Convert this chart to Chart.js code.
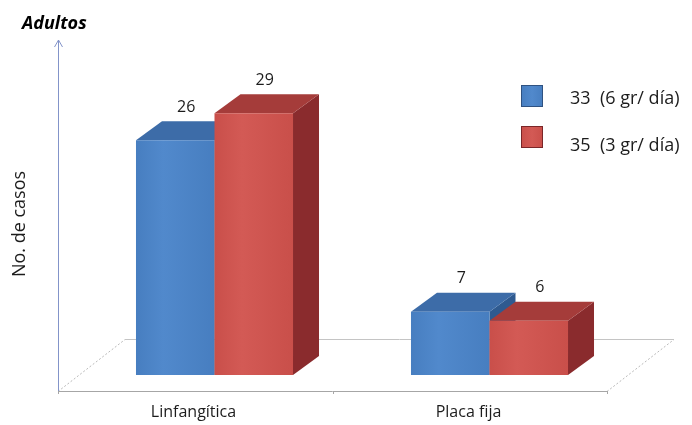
<!DOCTYPE html>
<html>
<head>
<meta charset="utf-8">
<script src="https://cdn.jsdelivr.net/npm/chart.js@4/dist/chart.umd.min.js"></script>
<style>
  html, body { margin: 0; padding: 0; background: #ffffff; }
  canvas { display: block; }
</style>
</head>
<body>
<canvas id="chart" width="692" height="425"></canvas>
<script>
// Data
const categories = ['Linfangítica', 'Placa fija'];
const seriesNames = ['33  (6 gr/ día)', '35  (3 gr/ día)'];
const dosis6gr = [26, 7];
const dosis3gr = [29, 6];
const chartTitle = 'Adultos';
const yAxisTitle = 'No. de casos';

const FONT = '"Open Sans", Lato, sans-serif';

// Face colours of each 3D bar series
const palette = [
  { front: '#477ec0', light: '#5189cc', top: '#3d6ca8', side: '#2f5a90', edge: '#2f5281' },
  { front: '#c94f4a', light: '#d35a55', top: '#a53c3a', side: '#8a2b2d', edge: '#7a2628' }
];

// Perspective offsets (px)
const BAR_DEPTH = { dx: 26, dy: 19 };
const FLOOR = { front: 16, left: 19, right: 20, dx: 67, dy: 52 };

function poly(ctx, pts, fill) {
  ctx.beginPath();
  ctx.moveTo(pts[0][0], pts[0][1]);
  for (let i = 1; i < pts.length; i++) ctx.lineTo(pts[i][0], pts[i][1]);
  ctx.closePath();
  ctx.fillStyle = fill;
  ctx.fill();
}

const bars3d = {
  id: 'bars3d',
  beforeDatasetsDraw(chart) {
    const { ctx, chartArea, scales } = chart;
    const base = scales.y.getPixelForValue(0);
    const fy = base + FLOOR.front;
    const fl = chartArea.left - FLOOR.left;
    const fr = chartArea.right - FLOOR.right;
    const by = fy - FLOOR.dy;
    ctx.save();
    // floor outline
    ctx.lineWidth = 1;
    ctx.strokeStyle = '#b9b9b9';
    ctx.setLineDash([2, 2]);
    ctx.beginPath();
    ctx.moveTo(fl, fy + 0.5); ctx.lineTo(fl + FLOOR.dx, by + 0.5);
    ctx.moveTo(fr, fy + 0.5); ctx.lineTo(fr + FLOOR.dx, by + 0.5);
    ctx.stroke();
    ctx.setLineDash([]);
    ctx.strokeStyle = '#c4c4c4';
    ctx.beginPath();
    ctx.moveTo(fl + FLOOR.dx, by + 0.5); ctx.lineTo(fr + FLOOR.dx, by + 0.5);
    ctx.stroke();
    ctx.strokeStyle = '#a6a6a6';
    ctx.beginPath();
    ctx.moveTo(fl, fy + 0.5); ctx.lineTo(fr, fy + 0.5);
    // category divider ticks
    const n = chart.data.labels.length;
    for (let i = 0; i <= n; i++) {
      const tx = Math.round(fl + (fr - fl) * i / n) + 0.5;
      ctx.moveTo(tx, fy); ctx.lineTo(tx, fy + 3);
    }
    ctx.stroke();
    // vertical axis with arrow head
    ctx.strokeStyle = '#8394c9';
    ctx.beginPath();
    ctx.moveTo(fl + 0.5, fy); ctx.lineTo(fl + 0.5, 40);
    ctx.moveTo(fl - 3.5, 47); ctx.lineTo(fl + 0.5, 40); ctx.lineTo(fl + 4.5, 47);
    ctx.stroke();
    ctx.restore();
  },
  beforeDatasetDraw() {
    return false; // faces are painted together below
  },
  afterDatasetsDraw(chart) {
    const { ctx } = chart;
    const { dx, dy } = BAR_DEPTH;
    const metas = chart.data.datasets.map((_, d) => chart.getDatasetMeta(d));
    ctx.save();
    for (let i = 0; i < chart.data.labels.length; i++) {
      metas.forEach((meta, d) => {
        const bar = meta.data[i];
        const c = palette[d];
        const l = bar.x - bar.width / 2, r = bar.x + bar.width / 2;
        const t = bar.y, b = bar.base;
        poly(ctx, [[r, b], [r + dx, b - dy], [r + dx, t - dy], [r, t]], c.side);
        poly(ctx, [[l, t], [r, t], [r + dx, t - dy], [l + dx, t - dy]], c.top);
        const g = ctx.createLinearGradient(l, 0, r, 0);
        g.addColorStop(0, c.front);
        g.addColorStop(0.35, c.light);
        g.addColorStop(1, c.front);
        poly(ctx, [[l, t], [r, t], [r, b], [l, b]], g);
      });
    }
    // value labels
    ctx.fillStyle = '#1c1c1c';
    ctx.font = '16px ' + FONT;
    ctx.textAlign = 'center';
    ctx.textBaseline = 'middle';
    metas.forEach((meta, d) => {
      meta.data.forEach((bar, i) => {
        const v = chart.data.datasets[d].data[i];
        ctx.fillText(String(v), bar.x + dx / 2 - 2, bar.y - dy - 14);
      });
    });
    ctx.restore();
  },
  afterDraw(chart) {
    const { ctx } = chart;
    ctx.save();
    // title
    ctx.fillStyle = '#000';
    ctx.font = 'italic bold 18px ' + FONT;
    ctx.textAlign = 'left';
    ctx.textBaseline = 'middle';
    ctx.fillText(chartTitle, 22, 24);
    // vertical axis title
    ctx.save();
    ctx.translate(20, 224);
    ctx.rotate(-Math.PI / 2);
    ctx.font = '18px ' + FONT;
    ctx.textAlign = 'center';
    ctx.fillStyle = '#1c1c1c';
    ctx.fillText(yAxisTitle, 0, 0);
    ctx.restore();
    // legend
    const boxes = [85, 126];
    const texts = [99, 146];
    chart.data.datasets.forEach((ds, d) => {
      const c = palette[d];
      const y = boxes[d];
      const g = ctx.createLinearGradient(521, 0, 543, 0);
      g.addColorStop(0, c.front);
      g.addColorStop(0.5, c.light);
      g.addColorStop(1, c.front);
      ctx.fillStyle = g;
      ctx.fillRect(521, y, 22, 22);
      ctx.strokeStyle = c.edge;
      ctx.lineWidth = 1;
      ctx.strokeRect(521.5, y + 0.5, 21, 21);
      ctx.fillStyle = '#1c1c1c';
      ctx.font = '18px ' + FONT;
      ctx.textAlign = 'left';
      ctx.textBaseline = 'middle';
      ctx.fillText(ds.label, 570, texts[d]);
    });
    ctx.restore();
  }
};

new Chart(document.getElementById('chart'), {
  type: 'bar',
  data: {
    labels: categories,
    datasets: [
      { label: seriesNames[0], data: dosis6gr, backgroundColor: palette[0].front },
      { label: seriesNames[1], data: dosis3gr, backgroundColor: palette[1].front }
    ]
  },
  options: {
    responsive: false,
    animation: false,
    layout: { padding: { left: 77, right: 65, top: 59, bottom: 0 } },
    datasets: { bar: { categoryPercentage: 0.571, barPercentage: 1 } },
    plugins: {
      legend: { display: false },
      title: { display: false },
      tooltip: { enabled: false }
    },
    scales: {
      x: {
        grid: { display: false, drawTicks: false },
        border: { display: false },
        ticks: { padding: 28, labelOffset: -21, color: '#1c1c1c', font: { family: FONT, size: 16 } },
        afterFit(scale) { scale.height = 50; }
      },
      y: { display: false, min: 0, max: 35 }
    }
  },
  plugins: [bars3d]
});
</script>
</body>
</html>
